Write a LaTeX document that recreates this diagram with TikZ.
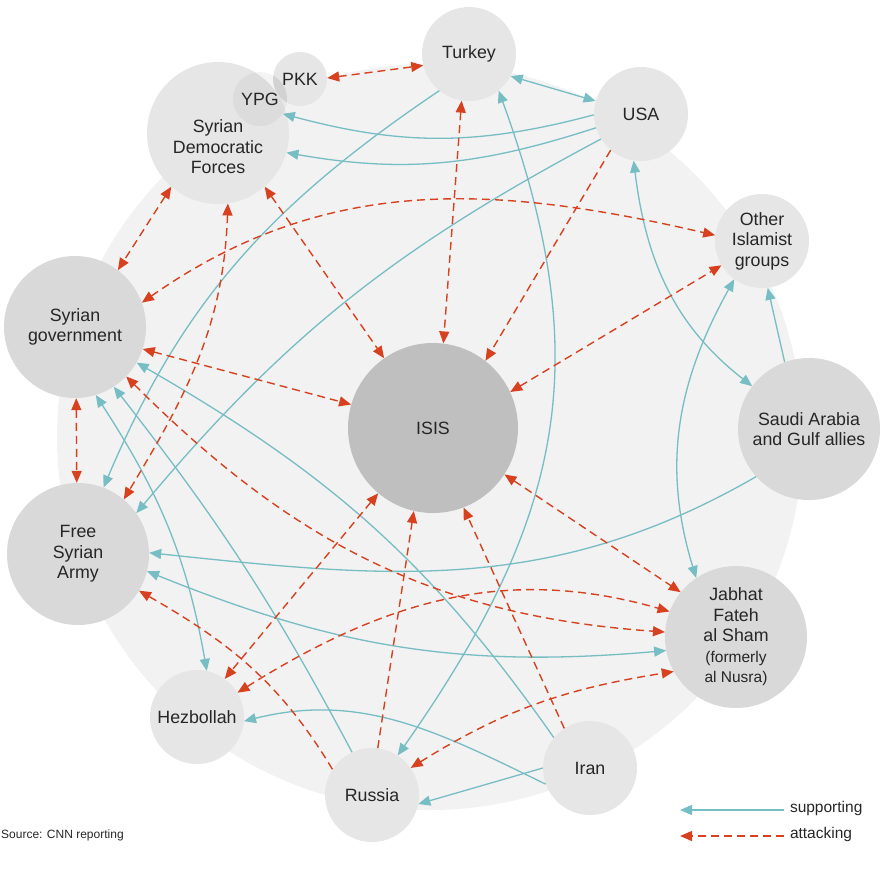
\documentclass[tikz,border=0pt]{standalone}
\usepackage{fontspec}
\setmainfont{Liberation Sans}
\usetikzlibrary{arrows.meta}
\definecolor{supportcol}{HTML}{76BDC4}
\definecolor{attackcol}{HTML}{D8411F}
\definecolor{nodelight}{HTML}{E6E6E6}
\definecolor{nodedark}{HTML}{D9D9D9}
\definecolor{isiscol}{HTML}{BFBFBF}
\definecolor{ringcol}{HTML}{F2F2F2}
\definecolor{inkcol}{HTML}{262626}
\newcommand{\jfsnote}{\fontsize{15.5}{19}\selectfont}
\tikzset{
  actortext/.style={align=center, text=inkcol, font=\fontsize{17.8}{20.5}\selectfont},
  actor/.style={
    circle, fill=nodelight, minimum size=94pt, inner sep=0pt, actortext
  },
  bigactor/.style={actor, fill=nodedark, minimum size=142pt},
  smallactor/.style={actor, minimum size=54pt},
  support/.style={draw=supportcol, line width=1.3pt},
  attack/.style={draw=attackcol, line width=1.4pt, dash pattern=on 8pt off 5pt},
  legendtext/.style={font=\fontsize{15.5}{18}\selectfont, text=inkcol, anchor=west, inner sep=0pt, outer sep=6pt}
}

\begin{document}
\begin{tikzpicture}[
    x=1pt, y=1pt,
    >={Triangle[length=12pt, width=10pt]},
    sourcetext/.style={font=\fontsize{12}{14}\selectfont, text=inkcol, anchor=west, inner sep=0pt}
    ]
    \useasboundingbox (0,0) rectangle (894,-873);
    \fill[ringcol] (430,-437) circle (373);

    \node[actor] (turkey) at (469,-54) {Turkey};
    \node[actor] (usa) at (641,-114) {USA};
    \node[actor, minimum size=142pt,
      label={[actortext, yshift=-14pt]center:{Syrian\\Democratic\\Forces}}] (sdf) at (218,-133) {};
    \node[smallactor] (pkk) at (300,-79) {PKK};
    \begin{scope}
      \clip (300,-79) circle (27);
      \fill[black, fill opacity=0.045] (260,-99) circle (27);
    \end{scope}
    \node[smallactor, fill=black, fill opacity=0.045, text opacity=1] (ypg) at (260,-99) {YPG};
    \node[bigactor] (syrgov) at (75,-327) {Syrian\\government};
    \node[bigactor] (fsa) at (78,-554) {Free\\Syrian\\Army};
    \node[actor] (islamist) at (762,-241) {Other\\Islamist\\groups};
    \node[bigactor] (saudi) at (809,-429) {Saudi Arabia\\and Gulf allies};
    \node[actor, fill=isiscol, minimum size=170pt] (isis) at (433,-428) {ISIS};
    \node[bigactor] (jfs) at (736,-637) {Jabhat\\Fateh\\al Sham\\\jfsnote(formerly\\\jfsnote al Nusra)};
    \node[actor] (hezbollah) at (197,-717) {Hezbollah};
    \node[actor] (russia) at (372,-795) {Russia};
    \node[actor] (iran) at (590,-768) {Iran};

    \draw[support, <->] (turkey.332) -- (usa.164);
    \draw[support, ->] (usa.181) to[out=195, in=-15] (ypg.327);
    \draw[support, ->] (usa.197) to[out=198, in=-10] (sdf.344);
    \draw[support, ->] (usa.212) to[out=208, in=50] (fsa.35);
    \draw[support, ->] (turkey.231) to[out=214, in=67] (fsa.69);
    \draw[support, <->] (turkey.309) to[out=-70, in=55, looseness=1.1] (russia.57);
    \draw[support, <->] (usa.261) to[out=-83, in=142] (saudi.143);
    \draw[support, ->] (saudi.110) -- (islamist.277);
    \draw[support, <->] (islamist.234) to[out=241, in=107] (jfs.124);
    \draw[support, ->] (saudi.222) to[out=210, in=-6] (fsa.1);
    \draw[support, <->] (fsa.346) to[out=-22, in=185] (jfs.191);
    \draw[support, ->] (iran.140) to[out=125, in=-30] (syrgov.330);
    \draw[support, ->] (russia.115) to[out=118, in=-52] (syrgov.303);
    \draw[support, <->] (syrgov.287) to[out=-57, in=100] (hezbollah.78);
    \draw[support, ->] (iran.200) to[out=154, in=14] (hezbollah.355);
    \draw[support, ->] (iran.180) -- (russia.349);

    \draw[attack, <->] (pkk.2) -- (turkey.194);
    \draw[attack, <->] (turkey.261) -- (isis.83);
    \draw[attack, ->] (usa.230) -- (isis.52);
    \draw[attack, <->] (sdf.311) -- (isis.125);
    \draw[attack, <->] (sdf.229) -- (syrgov.53);
    \draw[attack, <->] (sdf.278) to[out=268, in=59] (fsa.50);
    \draw[attack, <->] (syrgov.20) to[out=35, in=167] (islamist.173);
    \draw[attack, <->] (syrgov.342) -- (isis.164);
    \draw[attack, <->] (syrgov.271) -- (fsa.91);
    \draw[attack, <->] (syrgov.316) to[out=-45, in=176] (jfs.176);
    \draw[attack, ->] (russia.147) to[out=121, in=-30] (fsa.329);
    \draw[attack, <->] (isis.230) -- (hezbollah.54);
    \draw[attack, ->] (russia.83) -- (isis.257);
    \draw[attack, ->] (iran.123) -- (isis.291);
    \draw[attack, <->] (isis.327) -- (jfs.141);
    \draw[attack, <->] (russia.35) to[out=32, in=189] (jfs.209);
    \draw[attack, <->] (isis.25) -- (islamist.211);
    \draw[attack, <->] (hezbollah.31) to[out=32, in=164] (jfs.159);

    \node[legendtext] (suptext) at (784,-808) {supporting};
    \node[legendtext] (atttext) at (784,-834) {attacking};
    \coordinate (supend) at (680,-810);
    \coordinate (attend) at (680,-836);
    \draw[support, ->] ([yshift=-2pt]suptext.west) -- (supend);
    \draw[attack, ->] ([yshift=-2pt]atttext.west) -- (attend);
    \node[sourcetext] (source) at (1,-835) {Source: CNN reporting};
\end{tikzpicture}
\end{document}
